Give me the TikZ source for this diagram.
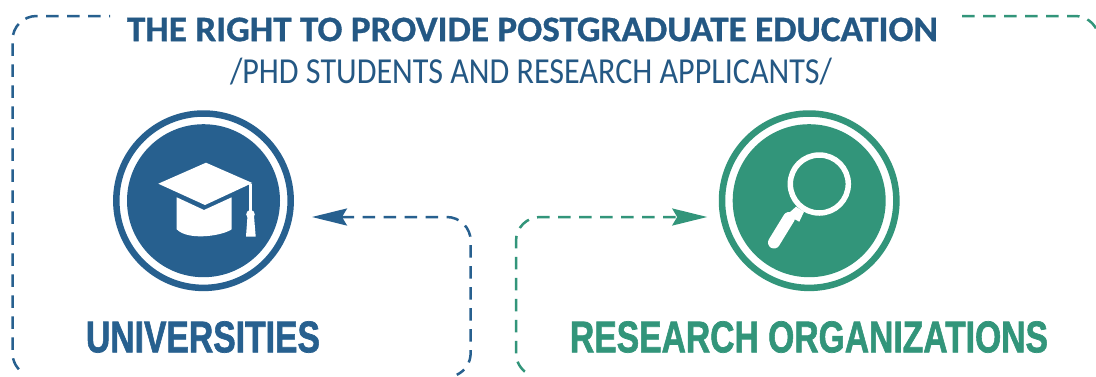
\documentclass[tikz,border=0pt]{standalone}
\usepackage{fontspec}
\setmainfont[BoldFeatures={FakeBold=0.8}]{Carlito}
\newfontfamily\headfont[BoldFeatures={FakeBold=1.6}]{Liberation Sans}
\usetikzlibrary{arrows.meta,calc}
\definecolor{uniblue}{HTML}{27608F}
\definecolor{resgreen}{HTML}{32957A}
\tikzset{
  dashline/.style={line width=2.5pt,dash pattern=on 12.5pt off 8.5pt},
  bigtip/.style={-{Stealth[length=35pt,width=17pt,inset=5pt]}},
  disc/.style={circle,inner sep=0pt,minimum size=153pt,fill=#1},
  ring/.style={line width=6.5pt,draw=#1},
  caption/.style={inner sep=0pt,font=\headfont\bfseries},
  icon/.style={fill=white,draw=none}
}
\begin{document}
\begin{tikzpicture}[x=1pt,y=-1pt]
\useasboundingbox (0,0) rectangle (1096,376);
\clip (0,0) rectangle (1096,376);
\fill[white] (0,0) rectangle (1096,376);
% circles
\node[disc=uniblue] (uni) at (203.5,200.7) {};
\node[disc=resgreen] (res) at (809.2,200.7) {};
\draw[ring=uniblue] (uni.center) circle (87.2);
\draw[ring=resgreen] (res.center) circle (87.2);
% texts
\node[inner sep=0pt,text=uniblue!92!black] (title) at (532.5,29.5) {\resizebox{811pt}{23.5pt}{\fontsize{34}{40}\selectfont\bfseries THE RIGHT TO PROVIDE POSTGRADUATE EDUCATION}};
\node[inner sep=0pt,text=uniblue!92!black] (subtitle) at (531,71.7) {\resizebox*{602pt}{27pt}{\fontsize{29}{34}\selectfont /PHD STUDENTS AND RESEARCH APPLICANTS/}};
\node[caption,text=uniblue] (unilabel) at (203,337) {\resizebox{234pt}{31pt}{UNIVERSITIES}};
\node[caption,text=resgreen] (reslabel) at (809,337) {\resizebox{478pt}{31pt}{RESEARCH ORGANIZATIONS}};
% frame pieces
\coordinate (frameL) at (110,16);
\coordinate (frameR) at (962,16);
\draw[dashline,uniblue,dash phase=11.5pt] (frameL) -- (36.5,16) arc[start angle=270,end angle=180,radius=24] -- (12.5,353) arc[start angle=180,end angle=122,radius=24];
\draw[dashline,resgreen] (frameR) -- (1075,16) arc[start angle=270,end angle=345,radius=24];
% connectors
\coordinate (uniTip) at ($(uni.center)+(108.5,16.3)$);
\coordinate (uniEnd) at (456.8,374.8);
\draw[dashline,uniblue,dash phase=3.4pt,bigtip] (uniEnd) arc[start angle=65,end angle=0,radius=24] -- (470.7,241) arc[start angle=0,end angle=-90,radius=24] -- (uniTip);
\coordinate (resTip) at ($(res.center)+(-102,16.3)$);
\coordinate (resEnd) at (527.3,373.4);
\draw[dashline,resgreen,dash phase=18pt,bigtip] (resEnd) arc[start angle=122,end angle=180,radius=24] -- (516,241) arc[start angle=180,end angle=270,radius=24] -- (resTip);
% mortarboard
\fill[icon] (158.3,183.7) -- (206,162.7) -- (252.3,183) -- (205,205) -- cycle;
\fill[icon] (176.7,197.3) -- (204,210) -- (231.7,197.3) -- (231.7,229.3)
  .. controls (222,236) and (188,241) .. (176.7,229.3) -- cycle;
\draw[white,line width=2.8pt] (250.7,183.5) -- (250.7,212);
\fill[icon] (250.5,214.3) circle (4.3);
\fill[icon] (247.5,216) -- (246,236.5) -- (255.7,236.5) -- (254,216) -- cycle;
% magnifier
\draw[white,line width=5.5pt] (819.3,184) circle (29);
\fill[icon] (796,206.7) -- (804,211.7) -- (799.3,221.7) -- (786.7,215) -- cycle;
\draw[white,line width=12pt,line cap=round] (789,218) -- (774,242.5);
\end{tikzpicture}
\end{document}
